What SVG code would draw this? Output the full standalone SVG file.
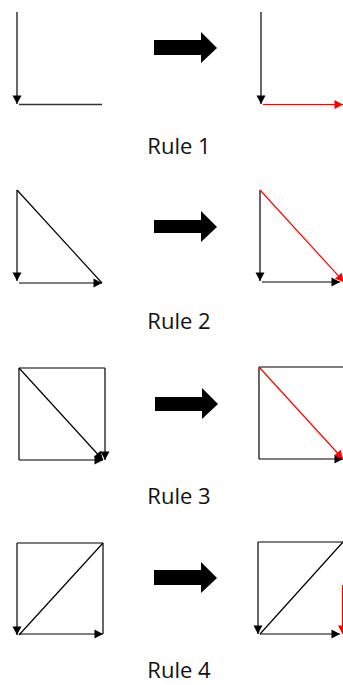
<svg xmlns="http://www.w3.org/2000/svg" width="343" height="685" viewBox="0 0 343 685">
<style>
.k{stroke:#000;stroke-width:1.2;fill:none}
.r{stroke:#ff0000;stroke-width:1.2;fill:none}
.ka{stroke:#000;stroke-width:1.2;fill:none;marker-end:url(#ah)}
.ra{stroke:#ff0000;stroke-width:1.2;fill:none;marker-end:url(#ahr)}
.big{fill:#000}
.lbl{font-family:"Open Sans","Liberation Sans",sans-serif;font-size:22px;fill:#111;text-anchor:middle}
</style>
<defs>
<marker id="ah" markerUnits="userSpaceOnUse" markerWidth="9" markerHeight="10" refX="8.5" refY="4.5" orient="auto" overflow="visible"><path d="M0,0 L8.5,4.5 L0,9 z" fill="#000"/></marker>
<marker id="ahr" markerUnits="userSpaceOnUse" markerWidth="9" markerHeight="10" refX="8.5" refY="4.5" orient="auto" overflow="visible"><path d="M0,0 L8.5,4.5 L0,9 z" fill="#ff0000"/></marker>
</defs>
<rect width="343" height="685" fill="#fff"/>
<g id="rule1">
<g id="r1-left"><line class="ka" x1="17" y1="12" x2="17" y2="104"/><line class="k" x1="19" y1="104.5" x2="102" y2="104.5" style="stroke:#333;stroke-width:1.4"/></g>
<polygon class="big" points="154,40 201,40 201,32 217,48 201,63 201,55 154,55"/>
<g id="r1-right"><line class="ka" x1="261" y1="12" x2="261" y2="104"/><line class="ra" x1="263" y1="104.5" x2="343" y2="104.5"/></g>
<text class="lbl" x="179" y="154">Rule 1</text>
</g>
<g id="rule2">
<g id="r2-left"><line class="ka" x1="17" y1="190" x2="17" y2="281"/><line class="k" x1="17" y1="190" x2="102" y2="283"/><line class="ka" x1="19" y1="283" x2="102" y2="283"/></g>
<polygon class="big" points="154,220 201,220 201,211 217,227 201,242 201,233 154,233"/>
<g id="r2-right"><line class="ka" x1="260" y1="190" x2="260" y2="281"/><line class="ka" x1="262" y1="282" x2="340" y2="282"/><line class="ra" x1="260" y1="190" x2="344" y2="282"/></g>
<text class="lbl" x="179" y="329">Rule 2</text>
</g>
<g id="rule3">
<g id="r3-left"><line class="k" x1="19" y1="368" x2="105" y2="368"/><line class="k" x1="19" y1="368" x2="19" y2="460"/><line class="ka" x1="105" y1="368" x2="105" y2="460"/><line class="ka" x1="19" y1="368" x2="103" y2="460"/><line class="ka" x1="19" y1="460" x2="103" y2="460"/></g>
<polygon class="big" points="155,397 202,397 202,388 218,404 202,419 202,411 155,411"/>
<g id="r3-right"><line class="k" x1="259" y1="367" x2="343" y2="367"/><line class="k" x1="259" y1="367" x2="259" y2="459"/><line class="ka" x1="259" y1="459" x2="343" y2="459"/><line class="ra" x1="259" y1="367" x2="343" y2="459"/></g>
<text class="lbl" x="179" y="504">Rule 3</text>
</g>
<g id="rule4">
<g id="r4-left"><line class="k" x1="17" y1="543" x2="103" y2="543"/><line class="ka" x1="17" y1="543" x2="17" y2="635"/><line class="k" x1="103" y1="543" x2="103" y2="634"/><line class="k" x1="19" y1="635" x2="103" y2="543"/><line class="ka" x1="19" y1="634" x2="103" y2="634"/></g>
<polygon class="big" points="154,570 201,570 201,562 217,578 201,593 201,585 154,585"/>
<g id="r4-right"><line class="k" x1="258" y1="542" x2="343" y2="542"/><line class="ka" x1="258" y1="542" x2="258" y2="634"/><line class="k" x1="260" y1="634" x2="343" y2="542"/><line class="ka" x1="260" y1="634" x2="340" y2="634"/><line class="ra" x1="342.5" y1="585" x2="342.5" y2="634"/></g>
<text class="lbl" x="179" y="678">Rule 4</text>
</g>
</svg>
